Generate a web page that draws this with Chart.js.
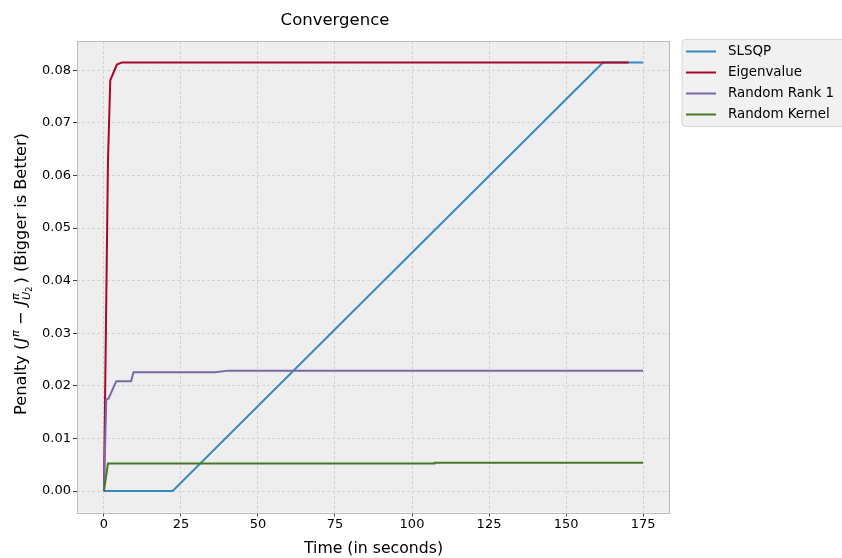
<!DOCTYPE html>
<html>
<head>
<meta charset="utf-8">
<script src="https://cdn.jsdelivr.net/npm/chart.js@4"></script>
<style>
html,body{margin:0;padding:0;background:#fff;}
canvas{display:block;}
</style>
</head>
<body>
<canvas id="c" width="842" height="558"></canvas>
<script>
// ---- data ----
const seriesNames = ['SLSQP', 'Eigenvalue', 'Random Rank 1', 'Random Kernel'];
const seriesColors = ['#348ABD', '#A60628', '#7A68A6', '#467821'];

const slsqpTime = [0, 22.3, 162, 175];
const slsqpPenalty = [0, 0, 0.0815, 0.0815];

const eigenTime = [0, 1.3, 2.05, 4.2, 5.85, 170.3];
const eigenPenalty = [0, 0.0627, 0.0781, 0.0811, 0.0815, 0.0815];

const rank1Time = [0, 0.75, 1.5, 4, 8.8, 9.6, 36, 40.5, 175];
const rank1Penalty = [0, 0.0174, 0.0176, 0.0209, 0.0209, 0.0226, 0.0226, 0.0229, 0.0229];

const kernelTime = [0, 1.3, 107.2, 107.3, 175];
const kernelPenalty = [0, 0.00525, 0.00525, 0.0054, 0.0054];

const xTicks = [0, 25, 50, 75, 100, 125, 150, 175];
const yTicks = [0, 0.01, 0.02, 0.03, 0.04, 0.05, 0.06, 0.07, 0.08];

const FONT = "'DejaVu Sans', 'Liberation Sans', sans-serif";

function pts(xs, ys) { return xs.map((x, i) => ({x: x, y: ys[i]})); }
const allTimes = [slsqpTime, eigenTime, rank1Time, kernelTime];
const allPenalties = [slsqpPenalty, eigenPenalty, rank1Penalty, kernelPenalty];

const datasets = seriesNames.map((name, i) => ({
  label: name,
  data: pts(allTimes[i], allPenalties[i]),
  borderColor: seriesColors[i],
  backgroundColor: seriesColors[i],
  borderWidth: 2,
  pointRadius: 0,
  showLine: true,
  tension: 0,
  fill: false,
  order: seriesNames.length - i
}));

const bgPlugin = {
  id: 'bg',
  beforeDraw(chart) {
    const {ctx, chartArea: a} = chart;
    ctx.save();
    ctx.fillStyle = '#eeeeee';
    ctx.fillRect(a.left, a.top, a.right - a.left, a.bottom - a.top);
    ctx.restore();
  },
  afterDatasetsDraw(chart) {
    const {ctx, chartArea: a} = chart;
    ctx.save();
    ctx.strokeStyle = '#bcbcbc';
    ctx.lineWidth = 1;
    ctx.strokeRect(Math.round(a.left) + 0.5, Math.round(a.top) + 0.5,
                   Math.round(a.right - a.left) - 1, Math.round(a.bottom - a.top));
    ctx.restore();
  },
  afterDraw(chart) {
    const {ctx} = chart;
    // ---- legend ----
    ctx.save();
    const lx = 682, ly = 39.5, lw = 180, lh = 87, r = 3;
    ctx.beginPath();
    ctx.moveTo(lx + r, ly);
    ctx.lineTo(lx + lw - r, ly);
    ctx.arcTo(lx + lw, ly, lx + lw, ly + r, r);
    ctx.lineTo(lx + lw, ly + lh - r);
    ctx.arcTo(lx + lw, ly + lh, lx + lw - r, ly + lh, r);
    ctx.lineTo(lx + r, ly + lh);
    ctx.arcTo(lx, ly + lh, lx, ly + lh - r, r);
    ctx.lineTo(lx, ly + r);
    ctx.arcTo(lx, ly, lx + r, ly, r);
    ctx.closePath();
    ctx.fillStyle = '#f1f1f1';
    ctx.fill();
    ctx.strokeStyle = '#d6d6d6';
    ctx.lineWidth = 1;
    ctx.stroke();
    ctx.font = '13.4px ' + FONT;
    ctx.textBaseline = 'middle';
    ctx.textAlign = 'left';
    seriesNames.forEach((name, i) => {
      const y = 51.5 + i * 21;
      ctx.strokeStyle = seriesColors[i];
      ctx.lineWidth = 2;
      ctx.beginPath();
      ctx.moveTo(686, y);
      ctx.lineTo(716, y);
      ctx.stroke();
      ctx.fillStyle = '#000';
      ctx.fillText(name, 728, y);
    });
    ctx.restore();

    // ---- y axis title with math ----
    ctx.save();
    const base = 16.2, scr = 11.3, sscr = 8.2;
    const fN = base + 'px ' + FONT;
    const fI = 'italic ' + base + 'px ' + FONT;
    const fS = 'italic ' + scr + 'px ' + FONT;
    const fSS = sscr + 'px ' + FONT;
    const w = (f, t) => { ctx.font = f; return ctx.measureText(t).width; };
    const parts = [];
    parts.push({t: 'Penalty (', f: fN, dy: 0, gap: 1.5});
    parts.push({t: 'J', f: fI, dy: 0, gap: 0.5});
    parts.push({t: '\u03C0', f: fS, dy: -6.8, gap: 0});
    parts.push({t: ' \u2212 ', f: fN, dy: 0, gap: 1});
    parts.push({t: 'J', f: fI, dy: 0, gap: 0.5});
    const wPi = w(fS, '\u03C0');
    const wU = w(fS, 'U');
    const w2 = w(fSS, '2');
    const groupW = Math.max(wPi, wU + w2);
    parts.push({group: true, w: groupW, gap: 3});
    parts.push({t: ')', f: fN, dy: 0, gap: 0});
    parts.push({t: ' (Bigger is Better)', f: fN, dy: 0, gap: 0});
    let total = 0;
    parts.forEach(p => { if (!p.group) p.w = w(p.f, p.t); total += p.w + p.gap; });
    const cy = 274;
    ctx.translate(25.9, cy);
    ctx.rotate(-Math.PI / 2);
    ctx.fillStyle = '#000';
    ctx.textBaseline = 'alphabetic';
    ctx.textAlign = 'left';
    let x = -total / 2;
    parts.forEach(p => {
      if (p.group) {
        ctx.font = fS;
        ctx.fillText('\u03C0', x, -6.8);
        ctx.fillText('U', x, 3.6);
        ctx.font = fSS;
        ctx.fillText('2', x + wU, 5.8);
      } else {
        ctx.font = p.f;
        ctx.fillText(p.t, x, p.dy);
      }
      x += p.w + p.gap;
    });
    ctx.restore();
  }
};

const gridCommon = {
  color: '#d2d2d2',
  lineWidth: 1,
  tickLength: 4,
  tickColor: '#444',
  tickWidth: 1,
  tickBorderDash: [],
  drawTicks: true
};

new Chart(document.getElementById('c'), {
  type: 'scatter',
  data: {datasets: datasets},
  plugins: [bgPlugin],
  options: {
    responsive: false,
    animation: false,
    events: [],
    layout: {padding: {left: 0, right: 172, top: 0, bottom: 0}},
    plugins: {
      legend: {display: false},
      tooltip: {enabled: false},
      title: {
        display: true,
        text: 'Convergence',
        color: '#000',
        font: {family: FONT, size: 16.5, weight: 'normal'},
        padding: {top: 11, bottom: 10.2}
      }
    },
    scales: {
      x: {
        type: 'linear',
        min: -8.75,
        max: 183.75,
        afterBuildTicks: s => { s.ticks = xTicks.map(v => ({value: v})); },
        afterFit: s => { s.height = 45.5; },
        ticks: {
          color: '#000',
          font: {family: FONT, size: 13},
          padding: 0,
          maxRotation: 0,
          autoSkip: false,
          callback: v => String(v)
        },
        grid: gridCommon,
        border: {display: false, dash: [3, 2]},
        title: {
          display: true,
          text: 'Time (in seconds)',
          color: '#000',
          font: {family: FONT, size: 15.7},
          padding: {top: 0, bottom: 0}
        }
      },
      y: {
        type: 'linear',
        min: -0.004075,
        max: 0.085575,
        afterBuildTicks: s => { s.ticks = yTicks.map(v => ({value: v})); },
        afterFit: s => { s.width = 77; },
        ticks: {
          color: '#000',
          font: {family: FONT, size: 13},
          padding: 2,
          autoSkip: false,
          callback: v => v.toFixed(2)
        },
        grid: gridCommon,
        border: {display: false, dash: [3, 2]}
      }
    }
  }
});
</script>
</body>
</html>
